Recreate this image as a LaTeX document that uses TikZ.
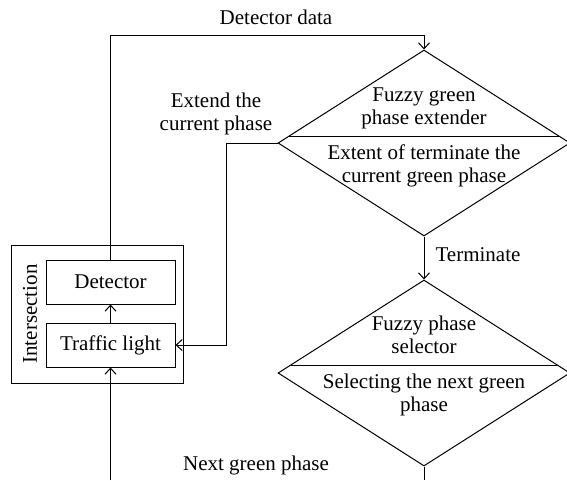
\documentclass[tikz,border=0pt]{standalone}
\usepackage{fontspec}
\setmainfont{Liberation Serif}
\usetikzlibrary{shapes.geometric,arrows.meta,calc}
\begin{document}
\begin{tikzpicture}[x=1pt,y=-1pt,
  every node/.style={font=\fontsize{21}{23}\selectfont},
  box/.style={draw,line width=1pt,minimum width=129pt,minimum height=44pt,inner sep=0pt},
  dia/.style={draw,line width=1pt,diamond,inner sep=0pt,minimum width=292pt,minimum height=186pt},
  conn/.style={line width=1pt,-{Straight Barb[length=6pt,width=11pt,line width=1pt]}},
  plain/.style={line width=1pt},
  lbl/.style={align=center,inner sep=0pt}]
\useasboundingbox (0,0) rectangle (567,480);
% intersection group
\node[draw,line width=1pt,minimum width=172pt,minimum height=138pt,inner sep=0pt] (inter) at (97,314) {};
\node[lbl,rotate=90] (interlbl) at (30,314) {Intersection};
\node[box] (det) at (110.5,282) {Detector};
\node[box] (tl) at (110.5,345) {Traffic light};
\draw[conn] (tl.north) -- (det.south);
% diamonds
\node[dia] (d1) at (424,143) {};
\node[dia] (d2) at (424,373) {};
\coordinate (d1l) at (289,136);
\coordinate (d1r) at (559,136);
\coordinate (d2l) at (291,365);
\coordinate (d2r) at (557,365);
\draw[plain] (d1l) -- (d1r);
\draw[plain] (d2l) -- (d2r);
\node[lbl] (t1a) at (424,108) {Fuzzy green\\phase extender};
\node[lbl] (t1b) at (424,166) {Extent of terminate the\\current green phase};
\node[lbl] (t2a) at (424,335) {Fuzzy phase\\selector};
\node[lbl] (t2b) at (424,395) {Selecting the next green\\phase};
% connectors
\coordinate (topc) at (424,35);
\draw[conn] (det.north) |- (topc) -- (d1.north);
\node[lbl] (ldd) at (276,17) {Detector data};
\coordinate (extc) at (226,143);
\draw[conn] (d1.west) -- (extc) |- (tl.east);
\node[lbl] (lext) at (216,114) {Extend the\\current phase};
\draw[conn] (d1.south) -- (d2.north);
\node[lbl] (lterm) at (478,255) {Terminate};
\coordinate (bot1) at (424,480);
\coordinate (bot2) at (110.5,480);
\draw[plain] (d2.south) -- (bot1);
\draw[conn] (bot2) -- (tl.south);
\node[lbl] (lnext) at (256,465) {Next green phase};
\end{tikzpicture}
\end{document}
